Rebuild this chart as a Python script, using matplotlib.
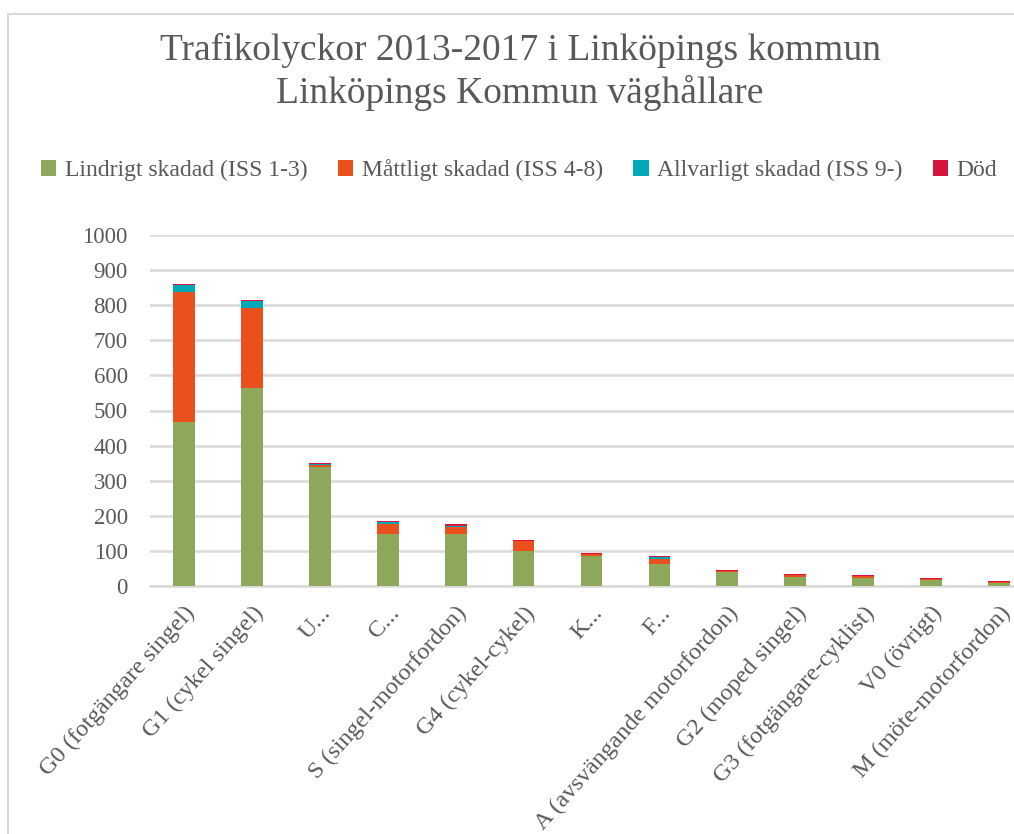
import numpy as np
import matplotlib
matplotlib.use("Agg")
import matplotlib.pyplot as plt
from matplotlib.patches import Rectangle

# data
categories = ['G0 (fotgängare singel)', 'G1 (cykel singel)', 'U...', 'C...',
              'S (singel-motorfordon)', 'G4 (cykel-cykel)', 'K...', 'F...',
              'A (avsvängande motorfordon)', 'G2 (moped singel)',
              'G3 (fotgängare-cyklist)', 'V0 (övrigt)', 'M (möte-motorfordon)']
lindrigt = [467, 564, 338, 148, 148, 100, 85, 63, 41, 26, 23, 17, 8]
mattligt = [370, 228, 6, 29, 21, 28, 6, 13, 3, 5, 5, 3, 2]
allvarligt = [20, 19, 4, 5, 3, 0, 0, 6, 0, 0, 0, 0, 0]
dod = [3, 4, 3, 4, 5, 3, 3, 3, 2, 3, 3, 3, 4]

series = [
    ('Lindrigt skadad (ISS 1-3)', lindrigt, '#8EA85B'),
    ('Måttligt skadad (ISS 4-8)', mattligt, '#E9501C'),
    ('Allvarligt skadad (ISS 9-)', allvarligt, '#00A8B8'),
    ('Död', dod, '#D8143C'),
]

plt.rcParams['font.family'] = ['Liberation Serif', 'DejaVu Serif']
txt = '#595959'
grid = '#D9D9D9'

W, H = 1014, 834
fig = plt.figure(figsize=(W / 100, H / 100), dpi=100)

# chart frame
fig.patches.append(Rectangle((8 / W, -0.1), 1.2, 1 - 14 / H + 0.1, transform=fig.transFigure,
                             fill=False, edgecolor=grid, linewidth=1.5))

ax = fig.add_axes([150 / W, 1 - 586 / H, 883 / W, 351 / H])
x = np.arange(len(categories))
bottom = np.zeros(len(categories))
for name, vals, col in series:
    ax.bar(x, vals, width=0.32, bottom=bottom, color=col, label=name, zorder=3)
    bottom += np.array(vals)

ax.set_xlim(-0.5, len(categories) - 0.5)
ax.set_ylim(0, 1000)
ax.set_yticks(range(0, 1001, 100))
ax.yaxis.grid(True, color=grid, linewidth=1.8, zorder=0)
ax.axhline(0, color=grid, linewidth=1.8, zorder=2, clip_on=False)
for s in ax.spines.values():
    s.set_visible(False)
ax.tick_params(axis='both', length=0, colors=txt, labelsize=16.5)
ax.tick_params(axis='y', pad=16)
ax.set_xticks(x)
ax.set_xticklabels(categories, rotation=48, ha='right', rotation_mode='anchor', fontsize=17.5)
ax.tick_params(axis='x', pad=12)

fig.text(0.513, 1 - 72 / H, 'Trafikolyckor 2013-2017 i Linköpings kommun\nLinköpings Kommun väghållare',
         ha='center', va='center', fontsize=27, color=txt, linespacing=1.25)

fig.legend(loc='center', bbox_to_anchor=(0.512, 1 - 170 / H), ncol=4, frameon=False,
           fontsize=17, labelcolor=txt, handlelength=0.65, handleheight=0.65,
           handletextpad=0.35, columnspacing=1.3)

fig.savefig('out.png', dpi=100)
